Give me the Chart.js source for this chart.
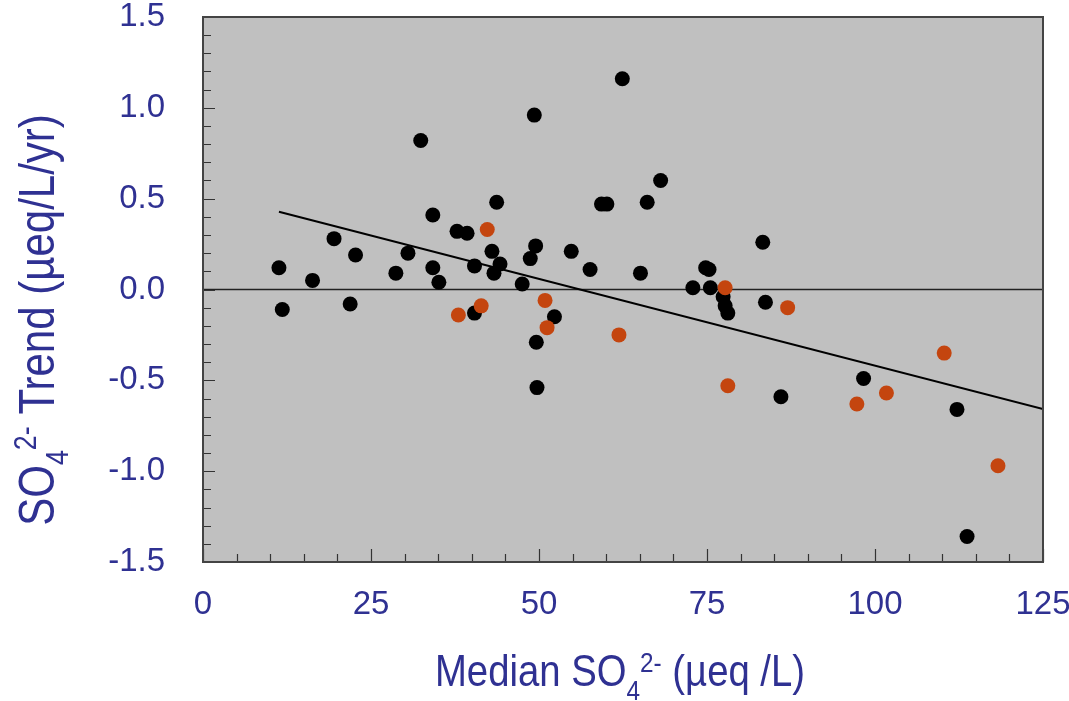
<!DOCTYPE html>
<html>
<head>
<meta charset="utf-8">
<script src="https://cdn.jsdelivr.net/npm/chart.js@4/dist/chart.umd.min.js"></script>
<style>
  html, body { margin: 0; padding: 0; background: #fff; }
  #wrap { width: 1069px; height: 701px; }
</style>
</head>
<body>
<div id="wrap"><canvas id="trendChart"></canvas></div>
<script>
// Median sulfate (x) vs. sulfate trend (y), one point per site
const blackX = [11.3, 11.8, 16.3, 19.5, 21.9, 22.7, 28.7, 30.5, 32.4, 34.2, 34.2, 35.1,
  37.8, 39.3, 40.4, 40.4, 43.0, 43.3, 43.7, 44.2, 47.5, 48.7, 49.3, 49.5, 49.6, 49.7,
  52.3, 54.8, 57.6, 59.3, 60.1, 62.4, 65.1, 66.1, 68.1, 72.9, 74.8, 75.3, 75.5, 77.4,
  77.7, 78.1, 83.3, 83.7, 86.0, 98.3, 112.2, 113.7];
const blackY = [0.12, -0.11, 0.05, 0.28, -0.08, 0.19, 0.09, 0.20, 0.82, 0.41, 0.12, 0.04,
  0.32, 0.31, 0.13, -0.13, 0.21, 0.09, 0.48, 0.14, 0.03, 0.17, 0.96, 0.24, -0.29, -0.54,
  -0.15, 0.21, 0.11, 0.47, 0.47, 1.16, 0.09, 0.48, 0.60, 0.01, 0.12, 0.11, 0.01, -0.04,
  -0.09, -0.13, 0.26, -0.07, -0.59, -0.49, -0.66, -1.36];

const orangeX = [38.0, 41.4, 42.3, 50.9, 51.2, 61.9, 77.7, 78.1, 87.0, 97.3, 101.7, 110.3, 118.3];
const orangeY = [-0.14, -0.09, 0.33, -0.06, -0.21, -0.25, 0.01, -0.53, -0.10, -0.63, -0.57, -0.35, -0.97];

// fitted regression line end points
const trendX = [11.3, 125];
const trendY = [0.428, -0.658];

// zero reference line
const zeroX = [0, 125];
const zeroY = [0, 0];

const xTicks = [0, 25, 50, 75, 100, 125];
const yTicks = [-1.5, -1.0, -0.5, 0.0, 0.5, 1.0, 1.5];

const NAVY = '#2f3192';

function pts(xs, ys) {
  return xs.map((x, i) => ({ x: x, y: ys[i] }));
}

// grey plot area, frame and inward tick marks
const frame = {
  id: 'frame',
  beforeDatasetsDraw(chart) {
    const { ctx, chartArea: a } = chart;
    ctx.save();
    ctx.fillStyle = '#c0c0c0';
    ctx.fillRect(a.left, a.top, a.right - a.left, a.bottom - a.top);
    ctx.restore();
  },
  afterDatasetsDraw(chart) {
    const { ctx, chartArea: a, scales: { x, y } } = chart;
    ctx.save();
    ctx.strokeStyle = '#333';
    ctx.lineWidth = 1.2;
    ctx.beginPath();
    for (let v = 0; v <= 125; v += 5) {
      const px = Math.round(x.getPixelForValue(v)) + 0.5;
      const len = v % 25 === 0 ? 13 : 8;
      ctx.moveTo(px, a.bottom);
      ctx.lineTo(px, a.bottom - len);
    }
    for (let k = -15; k <= 15; k++) {
      const py = Math.round(y.getPixelForValue(k / 10)) + 0.5;
      const len = k % 5 === 0 ? 12 : 8;
      ctx.moveTo(a.left, py);
      ctx.lineTo(a.left + len, py);
    }
    ctx.stroke();
    ctx.strokeStyle = '#444';
    ctx.lineWidth = 2;
    ctx.strokeRect(a.left, a.top, a.right - a.left, a.bottom - a.top);
    ctx.restore();
  }
};

// draw a label made of parts; shift moves sub/superscripts up or down
function drawParts(ctx, parts, size, squeeze) {
  let w = 0;
  parts.forEach(p => {
    ctx.font = (p.size || size) + 'px "Liberation Sans", Arial, sans-serif';
    p.w = ctx.measureText(p.t).width;
    w += p.w;
  });
  let cx = -w / 2;
  ctx.scale(squeeze, 1);
  parts.forEach(p => {
    ctx.font = (p.size || size) + 'px "Liberation Sans", Arial, sans-serif';
    ctx.fillText(p.t, cx, p.shift || 0);
    cx += p.w;
  });
}

const titles = {
  id: 'titles',
  afterDraw(chart) {
    const { ctx } = chart;
    ctx.save();
    ctx.fillStyle = NAVY;
    ctx.textBaseline = 'alphabetic';

    // x axis title
    ctx.save();
    ctx.translate(620, 686);
    drawParts(ctx, [
      { t: 'Median SO' },
      { t: '4', size: 28, shift: 14 },
      { t: '2-', size: 28, shift: -14 },
      { t: ' (\u00b5eq /L)' }
    ], 44, 0.87);
    ctx.restore();

    // y axis title
    ctx.save();
    ctx.translate(54, 320);
    ctx.rotate(-Math.PI / 2);
    drawParts(ctx, [
      { t: 'SO' },
      { t: '4', size: 32, shift: 14 },
      { t: '2-', size: 32, shift: -18 },
      { t: ' Trend (\u00b5eq/L/yr)' }
    ], 50, 0.84);
    ctx.restore();

    ctx.restore();
  }
};

new Chart(document.getElementById('trendChart').getContext('2d'), {
  type: 'scatter',
  data: {
    datasets: [
      {
        label: 'orange',
        data: pts(orangeX, orangeY),
        backgroundColor: '#c4450f',
        borderWidth: 0,
        pointRadius: 7.5
      },
      {
        label: 'black',
        data: pts(blackX, blackY),
        backgroundColor: '#000',
        borderWidth: 0,
        pointRadius: 7.5
      },
      {
        type: 'line',
        label: 'trend',
        data: pts(trendX, trendY),
        borderColor: '#000',
        borderWidth: 2,
        pointRadius: 0,
        fill: false
      },
      {
        type: 'line',
        label: 'zero',
        data: pts(zeroX, zeroY),
        borderColor: '#222',
        borderWidth: 1.3,
        pointRadius: 0,
        fill: false
      }
    ]
  },
  options: {
    responsive: true,
    maintainAspectRatio: false,
    animation: false,
    layout: { padding: { left: 0, top: 17, right: 26, bottom: 0 } },
    plugins: { legend: { display: false }, tooltip: { enabled: false } },
    scales: {
      x: {
        type: 'linear',
        min: 0,
        max: 125,
        afterBuildTicks: s => { s.ticks = xTicks.map(v => ({ value: v })); },
        afterFit: s => { s.height = 139; s.paddingLeft = 0; s.paddingRight = 0; },
        grid: { display: false, drawTicks: false },
        border: { display: false },
        ticks: {
          color: NAVY,
          padding: 23,
          maxRotation: 0,
          font: { family: '"Liberation Sans", Arial, sans-serif', size: 33 }
        }
      },
      y: {
        type: 'linear',
        min: -1.5,
        max: 1.5,
        afterBuildTicks: s => { s.ticks = yTicks.map(v => ({ value: v })); },
        afterFit: s => { s.width = 203; s.paddingTop = 0; s.paddingBottom = 0; },
        grid: { display: false, drawTicks: false },
        border: { display: false },
        ticks: {
          color: NAVY,
          padding: 38,
          callback: v => v.toFixed(1),
          font: { family: '"Liberation Sans", Arial, sans-serif', size: 33 }
        }
      }
    }
  },
  plugins: [frame, titles]
});
</script>
</body>
</html>
